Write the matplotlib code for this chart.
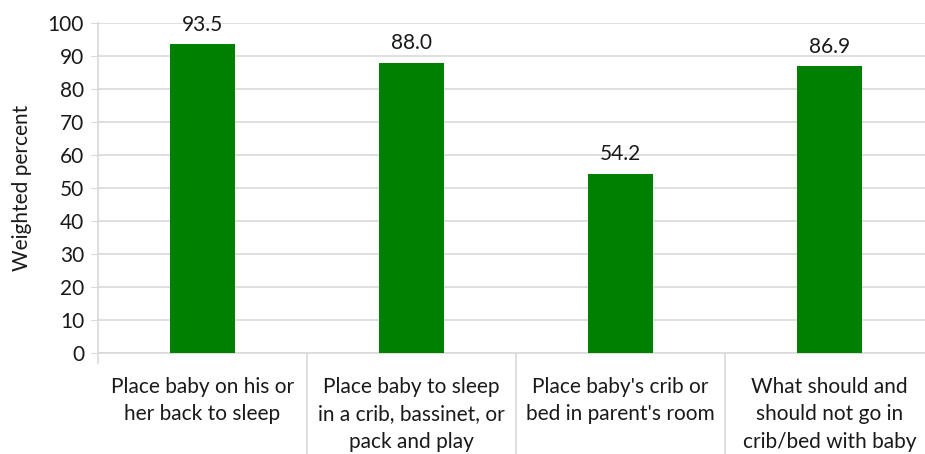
import matplotlib.pyplot as plt

# chart data
categories = [
    "Place baby on his or\nher back to sleep",
    "Place baby to sleep\nin a crib, bassinet, or\npack and play",
    "Place baby's crib or\nbed in parent's room",
    "What should and\nshould not go in\ncrib/bed with baby",
]
values = [93.5, 88.0, 54.2, 86.9]
y_ticks = [0, 10, 20, 30, 40, 50, 60, 70, 80, 90, 100]

plt.rcParams['font.family'] = ['Lato', 'DejaVu Sans']
grid_col = "#d9d9d9"
txt_col = "#1a1a1a"
fs = 15

fig = plt.figure(figsize=(9.25, 4.54), dpi=100)
#axes run a bit past the right edge like the original
ax = fig.add_axes([98 / 925, 1 - 353 / 454, 836 / 925, 330 / 454])

x = list(range(len(categories)))
ax.bar(x, values, width=0.31, color="#008000", zorder=3)

for xi, v in zip(x, values):
    ax.annotate(f"{v:.1f}", (xi, v), xytext=(0, 7), textcoords="offset points",
                ha="center", va="bottom", fontsize=fs, color=txt_col)

ax.set_xlim(-0.5, len(categories) - 0.5)
ax.set_ylim(0, 100)
ax.set_yticks(y_ticks)
ax.tick_params(axis="y", labelsize=fs, length=5, color=grid_col, labelcolor=txt_col, pad=5)
ax.set_xticks(x)
ax.set_xticklabels(categories, fontsize=fs, color=txt_col, linespacing=1.47)
ax.tick_params(axis="x", length=0, pad=17)
ax.yaxis.grid(True, color=grid_col, linewidth=1.2, zorder=0)

for side in ["top", "right"]:
    ax.spines[side].set_visible(False)
ax.spines["left"].set_color(grid_col)
ax.spines["bottom"].set_color(grid_col)
ax.spines["left"].set_linewidth(1.2)
ax.spines["bottom"].set_linewidth(1.2)

#category separators hanging below the axis
for b in [-0.5, 0.5, 1.5, 2.5]:
    bottom = -0.03 if b == -0.5 else -0.32
    ax.plot([b, b], [0, bottom], transform=ax.get_xaxis_transform(),
            color=grid_col, linewidth=1.2, clip_on=False)

ax.set_ylabel("Weighted percent", fontsize=fs, color=txt_col, labelpad=11)

fig.savefig("out.png", dpi=100)
